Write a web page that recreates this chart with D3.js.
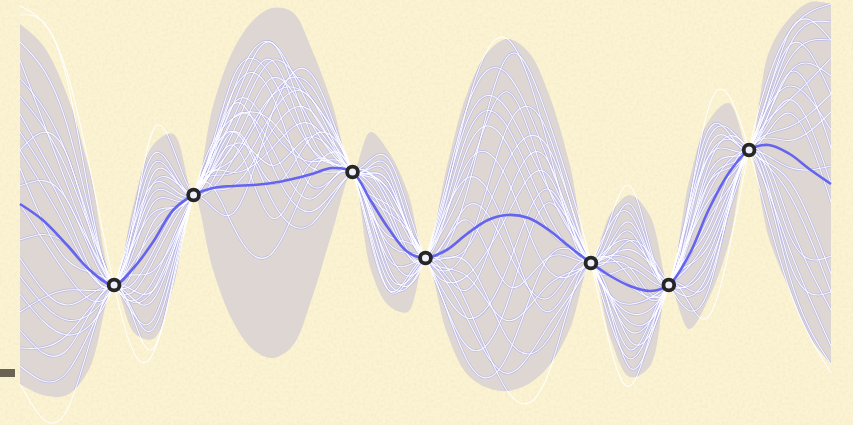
<!DOCTYPE html>
<html>
<head>
<meta charset="utf-8">
<script src="https://cdn.jsdelivr.net/npm/d3@7"></script>
<style>
  html, body { margin: 0; padding: 0; background: #fbf3d2; }
  svg { display: block; }
</style>
</head>
<body>
<svg id="chart" width="853" height="425"></svg>
<script>
// grid along x (data units)
const xs = [0, 0.28, 0.58, 0.86, 1.16, 1.41, 1.64, 1.89, 2.14, 2.38, 2.63, 2.88, 3.11, 3.36, 3.60, 3.85,
            4.10, 4.32, 4.54, 4.78, 5.00, 5.26, 5.51, 5.77, 6.01, 6.27, 6.52, 6.78, 7.04, 7.28, 7.52, 7.77,
            8.00, 8.25, 8.49, 8.74, 8.99, 9.23, 9.49, 9.75, 10.0];

// posterior mean
const meanVals = [0.08, -0.08, -0.33, -0.58, -0.73, -0.55, -0.30, 0.02, 0.17, 0.24, 0.26, 0.27, 0.29, 0.33, 0.38, 0.44,
                  0.40, 0.12, -0.16, -0.40, -0.46, -0.38, -0.22, -0.08, -0.03, -0.06, -0.18, -0.35, -0.51, -0.64, -0.74, -0.79,
                  -0.73, -0.43, 0.02, 0.39, 0.62, 0.67, 0.58, 0.42, 0.28];

// half width of the grey band (2 sigma)
const spreadVals = [1.80, 1.75, 1.50, 0.98, 0, 0.66, 0.97, 0.76, 0, 0.82, 1.36, 1.65, 1.75, 1.67, 1.24, 0.64,
                    0, 0.68, 0.77, 0.60, 0, 0.82, 1.40, 1.68, 1.76, 1.66, 1.36, 0.82, 0, 0.62, 0.91, 0.75,
                    0, 0.74, 0.89, 0.70, 0, 0.92, 1.36, 1.68, 1.80];

// observed points
const obsX = [1.16, 2.14, 4.10, 5.00, 7.04, 8.00, 8.99];
const obsY = [-0.73, 0.17, 0.40, -0.46, -0.51, -0.73, 0.62];

// sample paths: offsets in band widths at every other grid point
const samples = [
  [ 0.6, 0.5, 0,-0.4, 0, 0.3, 0.6, 0.4, 0, 0.5, 0,-0.3,-0.6,-0.4, 0, 0.5, 0,-0.5, 0, 0.4, 0.7],
  [-0.5,-0.6, 0, 0.6, 0, 0.5, 0.2,-0.2, 0,-0.6, 0, 0.4, 0.7, 0.3, 0,-0.4, 0, 0.6, 0,-0.3,-0.6],
  [ 0.9, 0.8, 0, 0.2, 0, 0.7, 0.8, 0.5, 0,-0.2, 0,-0.6,-0.9,-0.7, 0, 0.8, 0, 0.3, 0, 0.8, 0.9],
  [ 0.2,-0.1, 0,-0.8, 0, 0.1, 0.4, 0.6, 0, 0.8, 0, 0.2,-0.2,-0.5, 0,-0.7, 0,-0.8, 0,-0.6,-0.4],
  [-0.9,-0.85,0,-0.3, 0, 0.4,-0.1,-0.4, 0, 0.3, 0, 0.7, 0.5, 0.1, 0, 0.2, 0, 0.9, 0, 0.6, 0.2],
  [ 0.4, 0.2, 0, 0.8, 0, 0.6, 0.3, 0.1, 0,-0.4, 0,-0.1, 0.3, 0.6, 0,-0.2, 0,-0.3, 0, 0.2, 0.5],
  [-0.3,-0.4, 0,-0.6, 0, 0.2, 0.5, 0.7, 0, 0.2, 0,-0.8,-0.5, 0.2, 0, 0.6, 0, 0.5, 0,-0.7,-0.9],
  [ 1.05,1.1, 0, 1.15,0, 0.3, 0.1, 0.3, 0, 0.6, 0, 0.3, 0.9, 0.8, 0,-1.1, 0,-1.2, 0, 0.9, 1.0],
  [-1.0,-1.1, 0,-1.1, 0,-0.3,-0.4, 0.0, 0,-0.8, 0,-0.5,-1.0,-1.05,0,-0.9, 0,-0.2, 0,-0.9,-1.0],
  [ 0.1, 0.3, 0, 0.4, 0, 0.8, 0.6, 0.2, 0, 0.1, 0, 0.5, 0.2,-0.3, 0, 0.3, 0,-0.6, 0, 0.5, 0.3],
  [-0.6,-0.3, 0, 0.1, 0, 0.4, 0.7, 0.6, 0,-0.8, 0,-0.4, 0.1, 0.5, 0, 0.9, 0, 0.7, 0, 0.3,-0.1],
  [ 0.7, 0.6, 0,-0.2, 0, 0.0, 0.3, 0.5, 0, 0.7, 0, 0.6, 0.4, 0.0, 0,-0.5, 0, 0.1, 0, 0.7, 0.8],
  [-0.2, 0.0, 0, 0.5, 0, 0.6, 0.1,-0.3, 0, 0.4, 0,-0.2,-0.7,-0.8, 0, 0.1, 0, 0.8, 0,-0.2,-0.5],
  [ 0.5, 0.3, 0,-0.5, 0, 0.5, 0.7, 0.2, 0,-0.3, 0, 0.8, 0.6, 0.3, 0,-0.8, 0,-0.4, 0, 0.1, 0.4],
  [-0.7,-0.7, 0,-0.9, 0, 0.1, 0.2, 0.4, 0, 0.6, 0, 0.1,-0.4,-0.2, 0, 0.4, 0,-0.7, 0,-0.5,-0.7],
  [ 0.3, 0.6, 0, 0.7, 0, 0.3,-0.2, 0.1, 0, 0.9, 0,-0.3, 0.0, 0.4, 0, 0.7, 0, 0.4, 0, 0.6, 0.6],
  [-0.4,-0.5, 0, 0.3, 0, 0.7, 0.5,-0.1, 0,-0.5, 0, 0.9, 0.8, 0.5, 0,-0.3, 0, 0.2, 0,-0.1, 0.1],
  [ 0.8, 0.4, 0,-0.1, 0,-0.2, 0.4, 0.8, 0, 0.3, 0,-0.6,-0.3, 0.3, 0, 0.5, 0,-0.9, 0,-0.8,-0.6],
  [ 0.0,-0.2, 0, 0.9, 0, 0.4, 0.0, 0.3, 0,-0.7, 0, 0.4,-0.1,-0.6, 0,-0.6, 0, 0.6, 0, 0.4, 0.0],
  [-0.8,-0.6, 0,-0.5, 0, 0.6, 0.8, 0.3, 0, 0.5, 0,-0.1, 0.5, 0.7, 0, 0.2, 0,-0.1, 0, 0.8, 0.5],
  [ 1.1, 1.15,0,-1.15,0, 0.5, 0.35,0.05,0, 0.2, 0, 0.9, 1.0, 0.6, 0, 1.1, 0, 1.15,0,-1.0,-1.05],
  [ 0.3, 0.1, 0, 0.6, 0, 0.2, 0.5, 0.6, 0,-0.1, 0,-0.9,-0.8,-0.2, 0, 0.0, 0, 0.3, 0, 0.9, 0.8]
];

const svg = d3.select('#chart');
const width = +svg.attr('width');
const height = +svg.attr('height');

const x = d3.scaleLinear().domain([0, 10]).range([20, 831]);
const y = d3.scaleLinear().domain([-2.13, 2.12]).range([height, 0]);

// fine paper grain
const defs = svg.append('defs');
const noise = defs.append('filter').attr('id', 'noise')
  .attr('x', 0).attr('y', 0).attr('width', '100%').attr('height', '100%');
noise.append('feTurbulence').attr('type', 'fractalNoise')
  .attr('baseFrequency', 0.35).attr('numOctaves', 2).attr('seed', 7);
noise.append('feColorMatrix').attr('type', 'matrix')
  .attr('values', '0 0 0 0 0.6  0 0 0 0 0.52  0 0 0 0 0.35  0 0 0 1.4 -0.55');

svg.append('rect').attr('width', width).attr('height', height).attr('fill', '#fbf3d2');
svg.append('rect').attr('width', width).attr('height', height)
  .attr('filter', 'url(#noise)').attr('opacity', 0.18);

const band = xs.map((d, i) => ({ x: d, lo: meanVals[i] - spreadVals[i], hi: meanVals[i] + spreadVals[i] }));

const area = d3.area()
  .x(d => x(d.x))
  .y0(d => y(d.lo))
  .y1(d => y(d.hi))
  .curve(d3.curveCatmullRom.alpha(0.5));

defs.append('clipPath').attr('id', 'bandClip')
  .append('path').attr('d', area(band));

svg.append('path')
  .attr('d', area(band))
  .attr('fill', '#ddd6d3');

// sample paths
const knotIdx = d3.range(0, xs.length, 2);
const samplePts = samples.map(z => knotIdx.map((gi, k) => ({
  x: xs[gi], v: meanVals[gi] + z[k] * spreadVals[gi]
})));

const sampleLine = d3.line()
  .x(d => x(d.x))
  .y(d => y(d.v))
  .curve(d3.curveNatural);

svg.append('g')
  .attr('clip-path', 'url(#bandClip)')
  .selectAll('path')
  .data(samplePts)
  .join('path')
  .attr('d', sampleLine)
  .attr('fill', 'none')
  .attr('stroke', '#9a9af4')
  .attr('stroke-opacity', 0.5)
  .attr('stroke-width', 2.4);

svg.append('g')
  .selectAll('path')
  .data(samplePts)
  .join('path')
  .attr('d', sampleLine)
  .attr('fill', 'none')
  .attr('stroke', '#ffffff')
  .attr('stroke-opacity', 0.9)
  .attr('stroke-width', 1.1);

// mean line
const meanLine = d3.line()
  .x((d, i) => x(xs[i]))
  .y(d => y(d))
  .curve(d3.curveCatmullRom.alpha(0.5));

svg.append('path')
  .attr('d', meanLine(meanVals))
  .attr('fill', 'none')
  .attr('stroke', '#6464ee')
  .attr('stroke-width', 2.6);

// observations
svg.append('g')
  .selectAll('circle')
  .data(obsX)
  .join('circle')
  .attr('cx', d => x(d))
  .attr('cy', (d, i) => y(obsY[i]))
  .attr('r', 5.4)
  .attr('fill', '#f0f0fc')
  .attr('stroke', '#262626')
  .attr('stroke-width', 3.8);

// little handle at the left edge
svg.append('rect')
  .attr('x', 0).attr('y', 369).attr('width', 15).attr('height', 8)
  .attr('fill', '#6b6251');
</script>
</body>
</html>
